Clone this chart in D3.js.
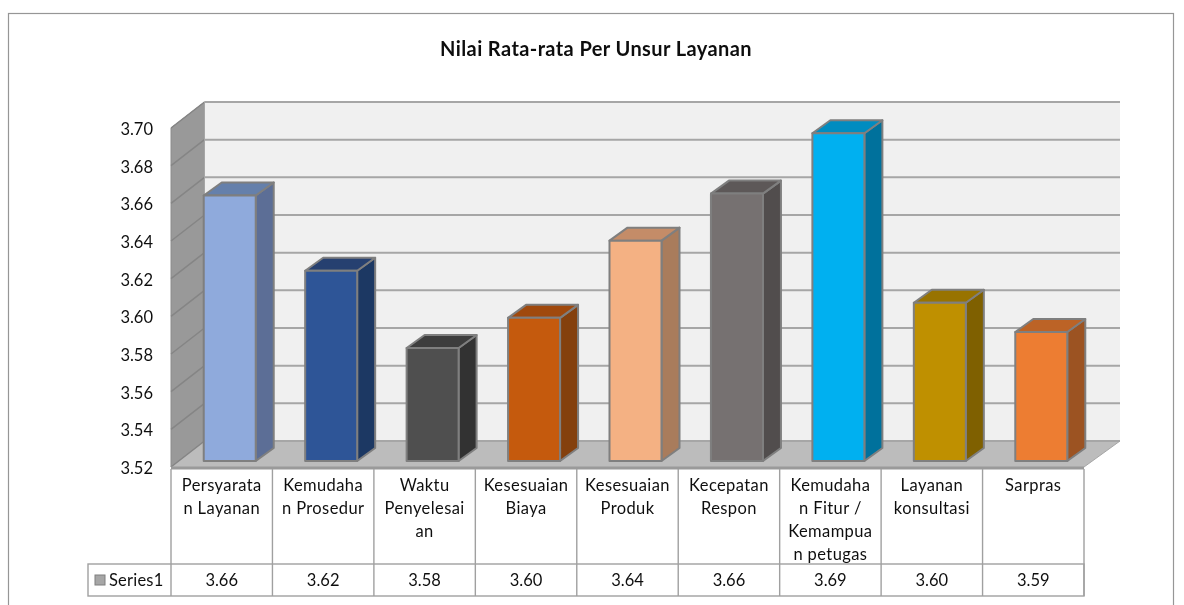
<!DOCTYPE html>
<html><head><meta charset="utf-8">
<style>html,body{margin:0;padding:0;background:#fff}svg{display:block}text{font-family:Lato,"Open Sans",sans-serif;fill:#111;stroke:none}</style>
<script src="https://cdn.jsdelivr.net/npm/d3@7/dist/d3.min.js"></script>
</head><body><svg width="1184" height="605"></svg>
<script>
const chartTitle = "Nilai Rata-rata Per Unsur Layanan";
const seriesName = "Series1";
const categories = ["Persyaratan Layanan","Kemudahan Prosedur","Waktu Penyelesaian","Kesesuaian Biaya","Kesesuaian Produk","Kecepatan Respon","Kemudahan Fitur / Kemampuan petugas","Layanan konsultasi","Sarpras"];
const categoryLines = [["Persyarata","n Layanan"],["Kemudaha","n Prosedur"],["Waktu","Penyelesai","an"],["Kesesuaian","Biaya"],["Kesesuaian","Produk"],["Kecepatan","Respon"],["Kemudaha","n Fitur /","Kemampua","n petugas"],["Layanan","konsultasi"],["Sarpras"]];
const values = [3.661,3.621,3.580,3.596,3.637,3.662,3.694,3.604,3.5885];
const frontColors = ["#8faadc","#2f5597","#505050","#c55a11","#f4b183","#767171","#00b0f0","#bf9000","#ed7d31"];
const topColors = ["#6580ab","#253f70","#3c3c3c","#a04a0e","#c48c68","#5d5959","#008cc0","#987300","#bc6327"];
const sideColors = ["#5b6e96","#1f3864","#333333","#84400f","#a97b5c","#514e4e","#00719c","#7f6000","#9c5220"];
const yTicks = [3.52,3.54,3.56,3.58,3.60,3.62,3.64,3.66,3.68,3.70];

const svg = d3.select("svg");
const defs = svg.append("defs");
defs.append("filter").attr("id","soft").append("feGaussianBlur").attr("stdDeviation",0.4);
const root = svg.append("g").attr("filter","url(#soft)");
root.append("rect").attr("width",1184).attr("height",605).attr("fill","#fff");

const x = d3.scaleBand().domain(d3.range(categories.length)).range([171,1084]);
const y = d3.scaleLinear().domain([3.52,3.70]).range([467,128]);
const depth = {dx:33.5, dy:-26};
const barShift = {dx:8, dy:-6};
const barW = 52, barDepth = {dx:18, dy:-13};
const grid = "#a6a6a6", barLine = "#7f7f7f";
const pts = a => a.map(p=>p.join(",")).join(" ");

root.append("rect").attr("x",8.5).attr("y",13.5).attr("width",1165).attr("height",620).attr("fill","#fff").attr("stroke","#969696").attr("stroke-width",1.2);
root.append("text").attr("x",596).attr("y",56).attr("text-anchor","middle").attr("font-size",20).attr("font-weight",700).attr("letter-spacing",0.4).text(chartTitle);

const plot = root.append("g");
const backR = x.range()[1]+36;
plot.append("rect").attr("x",x.range()[0]+depth.dx).attr("y",y(3.70)+depth.dy).attr("width",backR-x.range()[0]-depth.dx).attr("height",y(3.52)-y(3.70)).attr("fill","#f0f0f0");
plot.append("polygon").attr("points",pts([[171,y(3.70)],[171+depth.dx,y(3.70)+depth.dy],[171+depth.dx,y(3.52)+depth.dy],[171,y(3.52)]])).attr("fill","#999999").attr("stroke","#8c8c8c");
plot.append("polygon").attr("points",pts([[171,y(3.52)],[171+depth.dx,y(3.52)+depth.dy],[backR,y(3.52)+depth.dy],[1084,y(3.52)]])).attr("fill","#bcbcbc");
yTicks.forEach(t=>{
  plot.append("line").attr("x1",171+depth.dx).attr("x2",backR).attr("y1",y(t)+depth.dy).attr("y2",y(t)+depth.dy).attr("stroke",grid).attr("stroke-width",2);
  plot.append("line").attr("x1",171).attr("x2",171+depth.dx).attr("y1",y(t)).attr("y2",y(t)+depth.dy).attr("stroke","#858585").attr("stroke-width",1.5);
});
plot.append("line").attr("x1",171+depth.dx).attr("x2",171+depth.dx).attr("y1",y(3.70)+depth.dy).attr("y2",y(3.52)+depth.dy).attr("stroke","#a6a6a6");
plot.append("line").attr("x1",171).attr("x2",1084).attr("y1",y(3.52)+1).attr("y2",y(3.52)+1).attr("stroke","#9a9a9a").attr("stroke-width",3);
plot.append("line").attr("x1",1084).attr("x2",backR).attr("y1",y(3.52)).attr("y2",y(3.52)+depth.dy).attr("stroke","#a6a6a6");

values.forEach((v,i)=>{
  const x0 = x(i)+(x.bandwidth()-barW)/2+barShift.dx, x1 = x0+barW;
  const yT = y(v)+barShift.dy, yB = y(3.52)+barShift.dy;
  const g = plot.append("g").attr("stroke",barLine).attr("stroke-width",2).attr("stroke-linejoin","round");
  g.append("polygon").attr("points",pts([[x1,yT],[x1+barDepth.dx,yT+barDepth.dy],[x1+barDepth.dx,yB+barDepth.dy],[x1,yB]])).attr("fill",sideColors[i]);
  g.append("polygon").attr("points",pts([[x0,yT],[x0+barDepth.dx,yT+barDepth.dy],[x1+barDepth.dx,yT+barDepth.dy],[x1,yT]])).attr("fill",topColors[i]);
  g.append("rect").attr("x",x0).attr("y",yT).attr("width",barW).attr("height",yB-yT).attr("fill",frontColors[i]);
});

root.append("g").selectAll("text").data(yTicks).join("text").attr("x",153).attr("y",d=>y(d)+7).attr("text-anchor","end").attr("font-size",16.5).text(d=>d3.format(".2f")(d));

const tableTop = y(3.52)+2, rowTop = 564, rowBot = 596, legendL = 88;
const t = root.append("g").attr("stroke","#a0a0a0").attr("stroke-width",1.4);
d3.range(categories.length+1).forEach(i=>{
  const xx = i<categories.length ? x(i) : x.range()[1];
  t.append("line").attr("x1",xx).attr("x2",xx).attr("y1",tableTop).attr("y2",rowBot);
});
t.append("rect").attr("x",legendL).attr("y",rowTop).attr("width",1084-legendL).attr("height",rowBot-rowTop).attr("fill","none");

categoryLines.forEach((ls,i)=>{
  const cx = x(i)+x.bandwidth()/2;
  const tx = root.append("text").attr("text-anchor","middle").attr("font-size",16.5).attr("letter-spacing",0.4);
  ls.forEach((l,j)=>tx.append("tspan").attr("x",cx).attr("y",491+j*23).text(l));
  root.append("text").attr("x",cx).attr("y",586).attr("text-anchor","middle").attr("font-size",16.5).text(d3.format(".2f")(values[i]));
});
root.append("rect").attr("x",95).attr("y",575).attr("width",10).attr("height",10).attr("fill","#a6a6a6").attr("stroke","#7f7f7f");
root.append("text").attr("x",109).attr("y",586).attr("font-size",16.5).attr("letter-spacing",0.2).text(seriesName);
</script></body></html>
